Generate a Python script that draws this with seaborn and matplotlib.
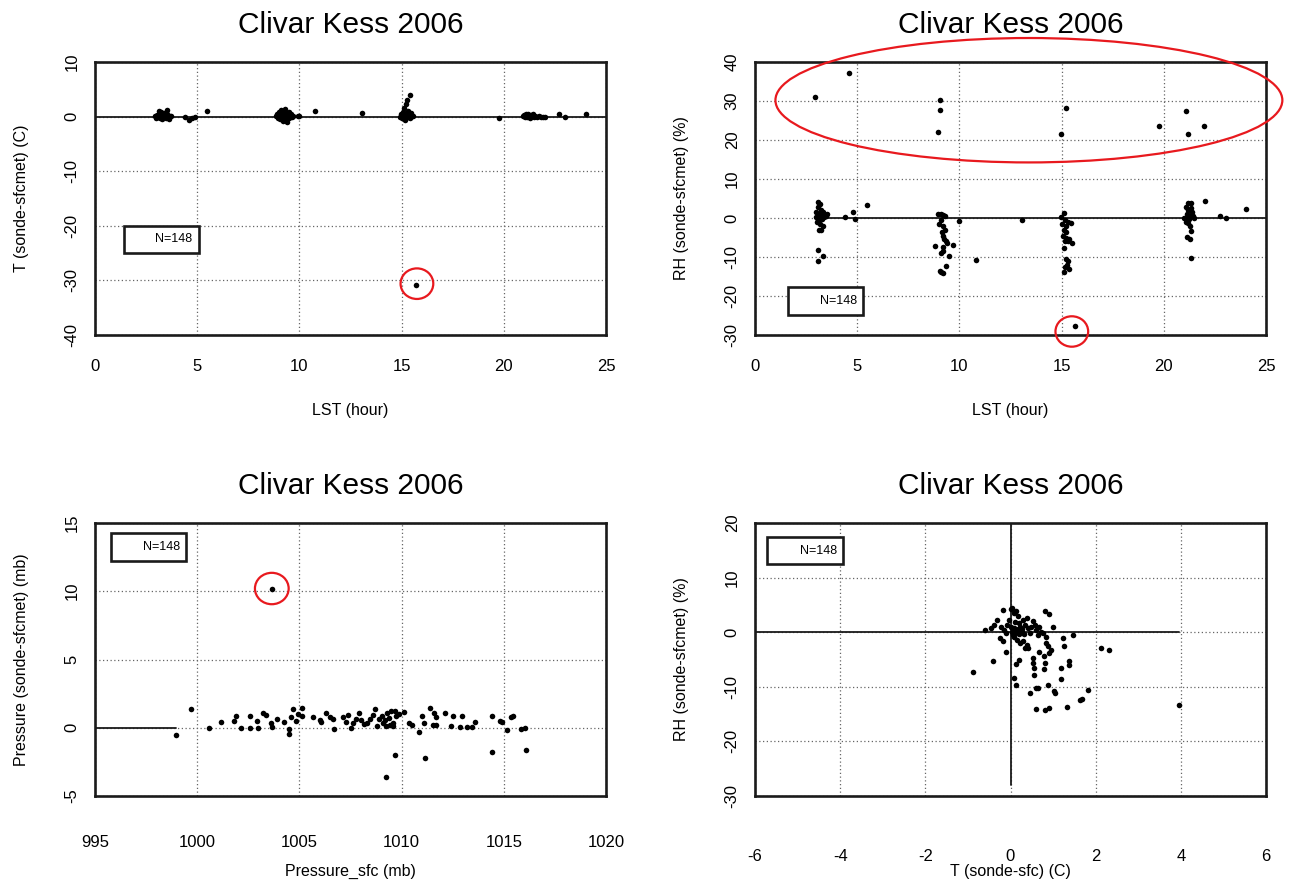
import matplotlib
matplotlib.use("Agg")
import matplotlib.pyplot as plt
import seaborn as sns
from matplotlib.patches import Ellipse, Rectangle

TITLE = "Clivar Kess 2006"
N_LABEL = "N=148"

# panel 1 : T (sonde-sfcmet) against LST
lst_t = [2.95, 3.0, 3.05, 3.1, 3.15, 3.2, 3.2, 3.25, 3.3, 3.3, 3.35, 3.4, 3.45, 3.5, 3.5, 3.55, 3.6, 3.65, 3.7, 3.15, 3.4,
         4.4, 4.6, 4.75, 4.9, 5.5,
         8.85, 8.9, 8.95, 9.0, 9.0, 9.05, 9.1, 9.1, 9.15, 9.2, 9.2, 9.25, 9.3, 9.3, 9.35, 9.4, 9.4, 9.45, 9.5, 9.5,
         9.55, 9.6, 9.65, 9.7, 9.2,
         9.95, 10.0, 10.75, 13.05,
         14.9, 14.95, 15.0, 15.05, 15.1, 15.1, 15.15, 15.2, 15.2, 15.25, 15.3, 15.3, 15.35, 15.4, 15.45, 15.5, 15.55,
         15.4, 15.2,
         15.7, 19.75,
         20.95, 21.0, 21.05, 21.1, 21.15, 21.2, 21.25, 21.3, 21.35, 21.4, 21.45, 21.5, 21.55, 21.6, 21.7, 21.8, 21.9,
         22.0, 22.7, 23.0, 24.0]
t_diff = [0.1, -0.2, 0.3, 0.0, 0.5, -0.3, 0.2, 0.8, 0.0, -0.5, 0.3, 0.1, -0.2, 0.4, 1.3, 0.0, -0.4, 0.2, 0.1, 1.0, 0.6,
          -0.1, -0.6, -0.2, 0.0, 1.0,
          0.1, 0.5, -0.2, 0.8, 0.0, -0.5, 1.2, 0.3, -0.1, 0.9, -0.8, 0.4, 0.0, 1.4, -0.4, 0.6, -1.0, 0.2, 0.9, -0.3,
          0.1, 0.5, 0.0, 0.2, 0.3,
          0.1, 0.2, 1.0, 0.7,
          0.0, 0.4, -0.3, 0.8, 0.1, 1.5, -0.6, 2.3, 0.5, 3.0, 0.0, 1.0, 0.3, -0.2, 0.6, 0.1, 0.2,
          3.9, 0.2,
          -30.8, -0.25,
          0.1, 0.3, -0.1, 0.4, 0.0, 0.5, 0.2, -0.2, 0.3, 0.1, 0.5, 0.0, 0.2, -0.1, 0.1, 0.0, 0.0,
          0.0, 0.4, 0.0, 0.5]

# panel 2 : RH (sonde-sfcmet) against LST
lst_rh = [3.1, 3.2, 3.1, 3.25, 3.0, 3.15, 3.3, 3.0, 3.2, 3.1, 3.3, 3.05, 3.2, 3.35, 3.25, 3.15, 3.4, 3.5, 3.45, 3.35,
          3.1, 3.34, 3.1,
          4.39, 4.79, 4.9, 5.48,
          8.95, 9.1, 9.2, 9.3, 9.0, 9.1, 9.2, 9.15, 9.3, 9.2, 9.25, 9.35, 9.2, 9.4, 9.7, 8.82, 9.2, 9.1, 9.47, 9.35,
          9.05, 9.2, 9.1,
          10.0, 10.8, 13.08,
          15.1, 14.95, 15.15, 15.3, 15.0, 15.2, 15.45, 15.1, 15.2, 15.05, 15.2, 15.35, 15.5, 15.15, 15.3, 15.1,
          15.2, 15.3, 15.25, 15.15, 15.35, 15.1,
          15.66,
          21.2, 21.35, 21.1, 21.35, 21.2, 21.4, 21.15, 21.3, 21.45, 21.0, 21.25, 21.1, 21.2, 21.3, 21.35, 21.15,
          21.3, 21.35, 21.5, 21.1,
          22.0, 22.76, 23.03, 24.0,
          2.92, 4.58, 9.03, 9.03, 8.95, 15.23, 14.97, 19.75, 21.08, 21.18, 21.97]
rh_diff = [4.0, 3.5, 2.8, 2.0, 1.5, 1.0, 0.8, 0.3, 0.0, -0.5, -0.3, -1.0, -1.5, -2.0, -3.0, -3.0, 0.2, 1.0, 0.5, 1.5,
           -8.1, -9.8, -11.1,
           0.2, 1.45, -0.3, 3.4,
           1.0, 1.0, 0.8, 0.5, -1.5, -0.5, -2.0, -3.5, -3.0, -4.5, -5.5, -6.0, -7.5, -6.5, -6.8, -7.3, -8.5, -9.0,
           -9.8, -12.2, -13.5, -14.0, -13.8,
           -0.7, -10.7, -0.4,
           1.4, 0.2, -0.5, -1.0, -1.5, -2.0, -1.2, -3.0, -3.5, -4.5, -5.0, -5.5, -6.5, -6.0, -6.0, -7.8,
           -10.5, -11.0, -12.0, -12.5, -13.0, -13.8,
           -27.7,
           3.9, 3.8, 2.8, 2.6, 2.0, 1.5, 1.0, 0.5, 0.5, 0.0, -0.3, -1.0, -1.2, -2.0, -3.3, -4.8,
           -5.5, -10.3, 0.0, -0.3,
           4.3, 0.6, 0.0, 2.3,
           31.0, 37.2, 30.2, 27.8, 22.0, 28.1, 21.6, 23.6, 27.4, 21.6, 23.6]

# panel 3 : Pressure (sonde-sfcmet) against Pressure_sfc
p_sfc = [998.98, 999.7, 1000.56, 1001.16, 1001.8, 1001.9, 1002.16, 1002.6, 1002.58, 1002.95, 1002.97, 1003.2,
         1003.35, 1003.6, 1003.66, 1003.9, 1004.27, 1004.47, 1004.47, 1004.6, 1004.7, 1004.84, 1004.95, 1005.15,
         1005.15, 1005.68, 1006.0, 1006.08, 1006.3, 1006.5, 1006.65, 1006.7, 1007.13, 1007.37, 1007.3, 1007.53,
         1007.6, 1007.77, 1007.94, 1008.0, 1008.3, 1008.45, 1008.7, 1008.8, 1008.9, 1009.05, 1009.1, 1009.25,
         1009.3, 1009.4, 1009.5, 1009.6, 1009.7, 1009.75, 1009.6, 1009.85, 1009.2, 1009.45, 1008.6, 1008.15,
         1010.1, 1010.35, 1010.5, 1010.84, 1011.0, 1011.08, 1011.4, 1011.6, 1011.7, 1011.56, 1011.7, 1012.13,
         1012.42, 1012.53, 1012.94, 1012.85, 1013.18, 1013.42, 1013.58, 1014.42, 1014.8, 1014.9, 1015.16,
         1015.35, 1015.43, 1015.84, 1016.03,
         1009.23, 1009.68, 1011.16, 1014.42, 1016.1, 1003.65]
p_diff = [-0.54, 1.35, 0.0, 0.39, 0.49, 0.88, 0.0, 0.88, 0.0, 0.49, 0.0, 1.1,
          0.93, 0.32, 0.07, 0.64, 0.39, -0.1, -0.47, 0.8, 1.37, 0.49, 0.98, 1.47,
          0.88, 0.8, 0.56, 0.44, 1.05, 0.8, 0.64, -0.1, 0.8, 0.93, 0.39, 0.0,
          0.32, 0.61, 1.05, 0.56, 0.37, 0.61, 1.34, 0.12, 0.61, 0.85, 0.37, 0.12,
          1.1, 0.73, 1.22, 0.37, 1.22, 0.85, 0.12, 1.0, 0.6, 0.2, 0.9, 0.3,
          1.18, 0.32, 0.2, -0.29, 0.86, 0.32, 1.47, 1.05, 0.8, 0.2, 0.2, 1.1,
          0.12, 0.86, 0.86, 0.07, 0.07, 0.07, 0.39, 0.86, 0.51, 0.39, -0.17,
          0.8, 0.88, -0.1, 0.0,
          -3.6, -1.96, -2.25, -1.76, -1.64, 10.2]

# panel 4 : RH (sonde-sfcmet) against T (sonde-sfc)
t_sc = [-0.87, -0.42, -0.61, -0.46, -0.38, -0.32, -0.17, -0.23, -0.15, -0.11, -0.24, -0.17, -0.11,
        -0.04, -0.08, 0.04, 0.08, 0.14, 0.02,
        0.0, 0.04, 0.08, 0.11, 0.15, 0.19, 0.23, 0.27, 0.3, 0.34, 0.38, 0.42, 0.46, 0.49, 0.53, 0.57, 0.61,
        0.65, 0.68, 0.72, 0.76, 0.06, 0.12, 0.2, 0.26, 0.32, 0.1, 0.18,
        0.08, 0.15, 0.23, 0.3, 0.38, 0.42, 0.34,
        0.19, 0.14, 0.09, 0.14, 0.46, 0.61, 0.65, 0.61, 0.8, 0.91,
        0.52, 0.53, 0.55, 0.55, 0.67, 0.78, 0.8, 0.78, 0.84, 0.84, 0.87, 0.95, 0.91, 0.8, 0.91, 0.99,
        0.87, 1.01, 1.05, 1.18, 1.18, 1.23, 1.25, 1.37, 1.38, 1.46, 1.33, 1.63, 1.67, 1.81,
        2.12, 2.32, 3.96]
rh_sc = [-7.2, -5.3, 0.43, 0.74, 1.35, 2.15, 4.0, 1.04, 0.43, -0.18, -1.1, -1.7, -3.7,
         2.27, 1.35, 4.4, 3.5, 3.8, 4.3,
         1.04, 0.12, 0.74, -0.18, 0.43, 1.65, 1.04, 0.12, 2.27, 1.35, 2.58, 0.74, -0.18, 1.04, 1.96, 1.35, 0.43,
         -0.49, 1.04, 0.12, -0.18, -0.5, 0.5, -0.4, 0.6, -0.3, 1.8, 2.9,
         -0.8, -1.4, -2.0, -1.7, -2.3, -2.9, -2.9,
         -5.0, -5.8, -8.3, -9.7, -11.2, -10.3, -10.2, -14.0, -14.2, -13.9,
         -4.8, -5.7, -6.6, -7.9, -3.6, -4.4, -5.6, -6.8, -0.8, -1.9, -2.6, -3.3, -3.9, 3.8, 3.4, 1.04,
         -9.7, -10.7, -11.1, -6.6, -8.5, -1.1, -2.6, -5.2, -6.0, -0.5, -13.7, -12.5, -12.3, -10.6,
         -2.9, -3.25, -13.4]

# zero reference segments drawn in each panel (x pair, y pair)
seg_t = ([0, 25], [0, 0])
seg_rh = ([min(lst_rh), 25], [0, 0])
seg_p = ([995, min(p_sfc)], [0, 0])
seg_sc_h = ([-6, max(t_sc)], [0, 0])
seg_sc_v = ([0, 0], [-28, 20])

# red marks drawn by hand on the original: (centre x, centre y, width, height)
marks_t = [(15.75, -30.6, 1.6, 5.6)]
marks_rh = [(13.4, 30.2, 24.8, 31.9), (15.5, -29.1, 1.6, 7.8)]
marks_p = [(1003.65, 10.2, 1.65, 2.3)]

sns.set_style("white")
plt.rcParams["font.family"] = ["Liberation Sans", "DejaVu Sans"]
plt.rcParams["axes.unicode_minus"] = False
plt.rcParams["text.color"] = "black"
plt.rcParams["axes.labelcolor"] = "black"
plt.rcParams["xtick.color"] = "black"
plt.rcParams["ytick.color"] = "black"

fig = plt.figure(figsize=(12.89, 8.82), dpi=100)
W, H = 1289, 882


def make_ax(left, right, top, bottom):
    return fig.add_axes([left / W, 1 - bottom / H, (right - left) / W, (bottom - top) / H])


def style(ax, xlim, ylim, xticks, yticks, xlabel, ylabel, box, xpad, xlabpad):
    ax.set_xlim(*xlim)
    ax.set_ylim(*ylim)
    ax.set_xticks(xticks)
    ax.set_yticks(yticks)
    ax.grid(True, linestyle=(0, (1, 2)), color="#666666", linewidth=0.9)
    ax.set_axisbelow(True)
    for sp in ax.spines.values():
        sp.set_linewidth(1.9)
        sp.set_color("#1a1a1a")
    ax.tick_params(length=0, labelsize=12)
    ax.tick_params(axis="x", pad=xpad)
    ax.tick_params(axis="y", labelrotation=90, pad=11)
    for lab in ax.get_yticklabels():
        lab.set_verticalalignment("center")
    ax.set_title(TITLE, fontsize=21.5, pad=21)
    ax.set_xlabel(xlabel, fontsize=11.5, labelpad=xlabpad)
    ax.set_ylabel(ylabel, fontsize=11.5, labelpad=26)
    x0, y0, w, h = box
    ax.add_patch(Rectangle((x0, y0), w, h, transform=ax.transAxes, fill=True,
                           facecolor="white", edgecolor="#1a1a1a", linewidth=1.9, zorder=5))
    ax.text(x0 + w - 0.012, y0 + h / 2, N_LABEL, transform=ax.transAxes, ha="right",
            va="center", fontsize=9, zorder=6)


def dots(ax, x, y):
    sns.scatterplot(x=x, y=y, ax=ax, color="black", s=16, linewidth=0, zorder=4)


def circles(ax, marks):
    for cx, cy, w, h in marks:
        ax.add_patch(Ellipse((cx, cy), w, h, fill=False, edgecolor="#e8191e",
                             linewidth=1.6, clip_on=False, zorder=7))


# top left
ax1 = make_ax(95, 606, 62, 335)
dots(ax1, lst_t, t_diff)
ax1.plot(*seg_t, color="#1a1a1a", lw=1.3)
style(ax1, (0, 25), (-40, 10), range(0, 26, 5), range(-40, 11, 10),
      "LST (hour)", "T (sonde-sfcmet) (C)", (0.057, 0.30, 0.146, 0.10), 17, 21)
circles(ax1, marks_t)

# top right
ax2 = make_ax(755, 1266, 62, 335)
dots(ax2, lst_rh, rh_diff)
ax2.plot(*seg_rh, color="#1a1a1a", lw=1.3)
style(ax2, (0, 25), (-30, 40), range(0, 26, 5), range(-30, 41, 10),
      "LST (hour)", "RH (sonde-sfcmet) (%)", (0.064, 0.073, 0.148, 0.102), 17, 21)
circles(ax2, marks_rh)

# bottom left
ax3 = make_ax(95, 606, 523, 796)
dots(ax3, p_sfc, p_diff)
ax3.plot(*seg_p, color="#1a1a1a", lw=1.3)
style(ax3, (995, 1020), (-5, 15), range(995, 1021, 5), range(-5, 16, 5),
      "Pressure_sfc (mb)", "Pressure (sonde-sfcmet) (mb)", (0.031, 0.859, 0.147, 0.104), 28, 10)
circles(ax3, marks_p)

# bottom right
ax4 = make_ax(755, 1266, 523, 796)
dots(ax4, t_sc, rh_sc)
ax4.plot(*seg_sc_h, color="#1a1a1a", lw=1.3)
ax4.plot(*seg_sc_v, color="#1a1a1a", lw=1.3)
style(ax4, (-6, 6), (-30, 20), range(-6, 7, 2), range(-30, 21, 10),
      "T (sonde-sfc) (C)", "RH (sonde-sfcmet) (%)", (0.023, 0.848, 0.15, 0.10), 38, 0)

fig.savefig("out.png", dpi=100)
